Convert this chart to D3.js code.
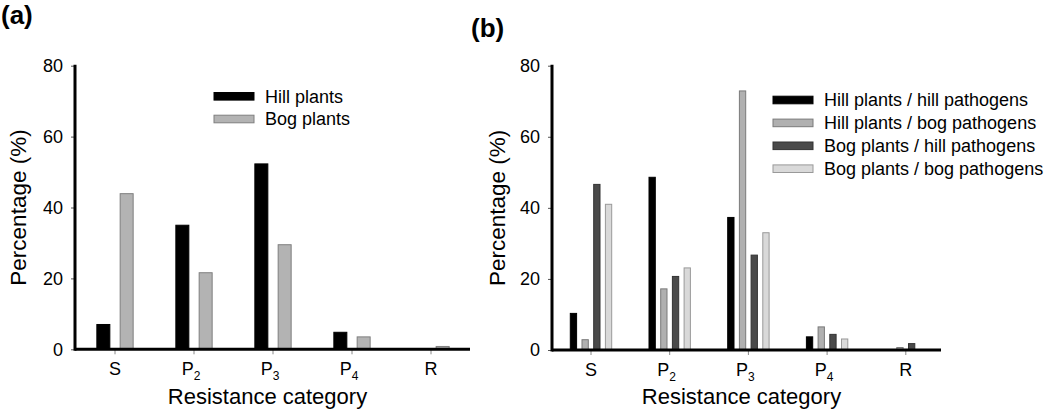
<!DOCTYPE html>
<html><head><meta charset="utf-8">
<script src="https://cdn.jsdelivr.net/npm/d3@7"></script>
<style>body{margin:0;background:#fff}svg{display:block;font-family:"Liberation Sans",Arial,sans-serif}</style>
</head><body><svg id="c" width="1050" height="409"></svg>
<script>
const categories = ["S","P2","P3","P4","R"];
const catMain = ["S","P","P","P","R"];
const catSub = ["","2","3","4",""];
const yTicks = [0,20,40,60,80];

const seriesA = ["Hill plants","Bog plants"];
const hillPlants = [7, 35, 52.3, 4.8, 0];
const bogPlants = [43.9, 21.6, 29.5, 3.5, 0.8];

const seriesB = ["Hill plants / hill pathogens","Hill plants / bog pathogens","Bog plants / hill pathogens","Bog plants / bog pathogens"];
const hillHill = [10.3, 48.6, 37.3, 3.7, 0];
const hillBog = [2.9, 17.2, 72.9, 6.5, 0.7];
const bogHill = [46.6, 20.7, 26.7, 4.4, 1.8];
const bogBog = [41.0, 23.1, 33.0, 3.1, 0];

const svg = d3.select("#c");
const fills = {"Hill plants":"#000","Bog plants":"#b3b3b3",
  "Hill plants / hill pathogens":"#000","Hill plants / bog pathogens":"#b0b0b0",
  "Bog plants / hill pathogens":"#4a4a4a","Bog plants / bog pathogens":"#d9d9d9"};
const strokes = {"Hill plants":"#000","Bog plants":"#7f7f7f",
  "Hill plants / hill pathogens":"#000","Hill plants / bog pathogens":"#7a7a7a",
  "Bog plants / hill pathogens":"#333","Bog plants / bog pathogens":"#999"};

function panel(cfg){
  const g = svg.append("g");
  const x = d3.scaleBand().domain(categories).range(cfg.xr).padding(0);
  const y = d3.scaleLinear().domain([0,80]).range(cfg.yr);
  const step = x.bandwidth();
  const x1 = d3.scaleBand().domain(cfg.series).range([step/2 - cfg.half, step/2 + cfg.half]).paddingInner(cfg.pin).paddingOuter(0);
  const data = cfg.series.map((s,i)=>({s, vals: cfg.values[i]}));
  data.forEach(d=>{
    g.selectAll(null).data(categories.map((c,j)=>({c, v:d.vals[j]}))).join("rect")
      .attr("x", e=> x(e.c) + x1(d.s) + 0.5)
      .attr("width", x1.bandwidth() - 1)
      .attr("y", e=> y(e.v))
      .attr("height", e=> y(0) - y(e.v))
      .attr("fill", fills[d.s]).attr("stroke", strokes[d.s]).attr("stroke-width", 1)
      .attr("display", e=> e.v > 0 ? null : "none");
  });
  const ya = g.append("g").attr("transform", `translate(${cfg.axX},0)`)
    .call(d3.axisLeft(y).tickValues(yTicks).tickSize(4).tickPadding(8));
  ya.select(".domain").remove();
  ya.selectAll(".tick line").attr("stroke","#555").attr("stroke-width",1);
  ya.selectAll(".tick text").attr("font-size",18).attr("fill","#000").attr("font-family","Liberation Sans, Arial, sans-serif");
  const xa = g.append("g").attr("transform", `translate(0,${y(0)})`)
    .call(d3.axisBottom(x).tickSize(5).tickFormat(""));
  xa.select(".domain").remove();
  xa.selectAll(".tick line").attr("stroke","#888").attr("stroke-width",1);
  categories.forEach((c,j)=>{
    const t = g.append("text").attr("x", x(c)+step/2 + (catSub[j]? -3:0)).attr("y", y(0)+26)
      .attr("text-anchor","middle").attr("font-size",18);
    t.append("tspan").text(catMain[j]);
    if(catSub[j]) t.append("tspan").attr("font-size",12).attr("dy",5).text(catSub[j]);
  });
  g.append("line").attr("x1",cfg.axX).attr("x2",cfg.axX).attr("y1",y(80)-1).attr("y2",y(0)+1.5)
    .attr("stroke","#000").attr("stroke-width",3);
  g.append("line").attr("x1",cfg.axX).attr("x2",cfg.axEnd).attr("y1",y(0)).attr("y2",y(0))
    .attr("stroke","#000").attr("stroke-width",3);
  g.append("text").attr("x", (cfg.axX+cfg.axEnd)/2 - 5).attr("y", 404).attr("text-anchor","middle")
    .attr("font-size",22).text("Resistance category");
  g.append("text").attr("transform", `translate(${cfg.ytX},${(y(0)+y(80))/2}) rotate(-90)`)
    .attr("text-anchor","middle").attr("dy","0.35em").attr("font-size",22.5).text("Percentage (%)");
  g.append("text").attr("x", cfg.lab[0]).attr("y", cfg.lab[1]).attr("font-size",26).attr("font-weight","bold").text(cfg.label);
  const lg = g.append("g");
  cfg.series.forEach((s,i)=>{
    const cy = cfg.leg[1] + i*cfg.legStep;
    lg.append("rect").attr("x",cfg.leg[0]).attr("y",cy-3.8).attr("width",40).attr("height",7.6)
      .attr("fill",fills[s]).attr("stroke",strokes[s]).attr("stroke-width",1);
    lg.append("text").attr("x",cfg.leg[0]+51).attr("y",cy).attr("dy","0.36em").attr("font-size",18).text(s);
  });
}

panel({xr:[75.5,470.5], yr:[349.3,65.7], axX:75, axEnd:470, series:seriesA, values:[hillPlants,bogPlants],
  half:18.65, pin:0.4, ytX:18, label:"(a)", lab:[1,24], leg:[214,96.3], legStep:22.7});
panel({xr:[551.65,945.15], yr:[350,65.7], axX:552, axEnd:941, series:seriesB, values:[hillHill,hillBog,bogHill,bogBog],
  half:21.2, pin:0.376, ytX:497, label:"(b)", lab:[471,37], leg:[773,100], legStep:22.9});
</script></body></html>
